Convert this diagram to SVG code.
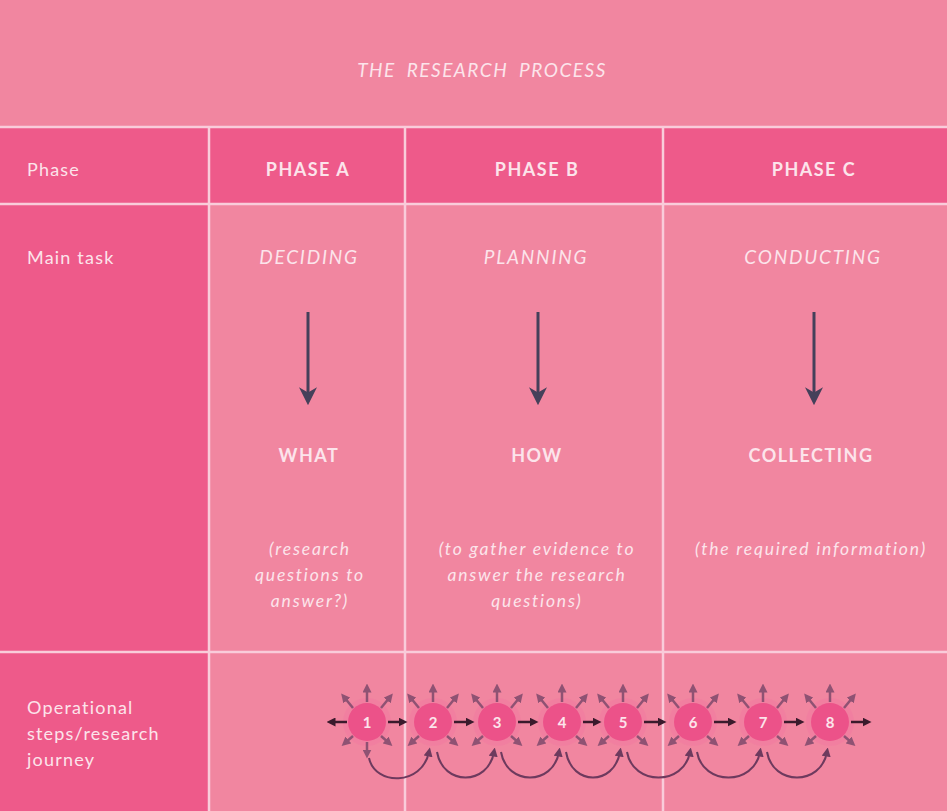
<svg xmlns="http://www.w3.org/2000/svg" width="947" height="811" viewBox="0 0 947 811">
<defs>
<style>
.t{font-family:Lato,"Open Sans","Liberation Sans",sans-serif;fill:#FCE4EB}
.hd{font-size:18px;font-weight:bold;text-anchor:middle;letter-spacing:1.5px}
.it{font-style:italic;text-anchor:middle}
.mt{font-size:19px;letter-spacing:1.8px}
.pr{font-size:17.5px;letter-spacing:1.8px}
.lb{font-size:18px;letter-spacing:1.2px}
.num{font-family:Lato,"Liberation Sans",sans-serif;font-size:15px;font-weight:bold;fill:#FCE4EB;text-anchor:middle}
.grid{stroke:#F9CCDA;stroke-width:2.5}
.rad{stroke:#7E4A6C;stroke-width:2.5;fill:none;opacity:0.85}
.nxt{stroke:#3A1A2C;stroke-width:2.5;fill:none}
.arc{stroke:#6E3A5E;stroke-width:2;fill:none}
</style>
<marker id="mh" viewBox="0 0 10 10" refX="5" refY="5" markerWidth="3.6" markerHeight="3.6" orient="auto">
<path d="M0,0 L10,5 L0,10 z" fill="#7E4A6C"/>
</marker>
<marker id="mk" viewBox="0 0 10 10" refX="5" refY="5" markerWidth="3.6" markerHeight="3.6" orient="auto">
<path d="M0,0 L10,5 L0,10 z" fill="#3A1A2C"/>
</marker>
<marker id="ma" viewBox="0 0 10 10" refX="5" refY="5" markerWidth="4.5" markerHeight="4.5" orient="auto">
<path d="M0,0 L10,5 L0,10 z" fill="#6E3A5E"/>
</marker>
<marker id="md" viewBox="0 0 10 10" refX="6" refY="5" markerWidth="6" markerHeight="6" orient="auto">
<path d="M0,0 L10,5 L0,10 L3,5 z" fill="#45405A"/>
</marker>
<g id="burst">
<circle r="24" fill="#F27CA0" opacity="0.6"/>
<circle r="19" fill="#EC5289"/>
<line class="rad" x1="0" y1="-20" x2="0" y2="-34" marker-end="url(#mh)"/>
<line class="rad" x1="-14" y1="-14" x2="-23" y2="-25" marker-end="url(#mh)"/>
<line class="rad" x1="14" y1="-14" x2="23" y2="-25" marker-end="url(#mh)"/>
<line class="rad" x1="-14" y1="14" x2="-22" y2="21" marker-end="url(#mh)"/>
<line class="rad" x1="14" y1="14" x2="22" y2="21" marker-end="url(#mh)"/>
</g>
</defs>

<g id="background">
<rect x="0" y="0" width="947" height="811" fill="#F186A0"/>
<rect x="0" y="127" width="947" height="77" fill="#EE5A8A"/>
<rect x="0" y="204" width="209" height="607" fill="#EE5A8A"/>
</g>

<g id="grid">
<line class="grid" x1="0" y1="127" x2="947" y2="127"/>
<line class="grid" x1="0" y1="204" x2="947" y2="204"/>
<line class="grid" x1="0" y1="652" x2="947" y2="652"/>
<line class="grid" x1="209" y1="127" x2="209" y2="811"/>
<line class="grid" x1="405" y1="127" x2="405" y2="811"/>
<line class="grid" x1="663" y1="127" x2="663" y2="811"/>
</g>

<g id="title">
<text class="t it" x="482" y="77" font-size="19" letter-spacing="1.5" word-spacing="5">THE RESEARCH PROCESS</text>
</g>

<g id="row-labels">
<text class="t lb" x="27" y="176">Phase</text>
<text class="t lb" x="27" y="264">Main task</text>
<text class="t lb" x="27" y="714">Operational</text>
<text class="t lb" x="27" y="740">steps/research</text>
<text class="t lb" x="27" y="766">journey</text>
</g>

<g id="phase-a">
<text class="t hd" x="308" y="176">PHASE A</text>
<text class="t it mt" x="309" y="264">DECIDING</text>
<text class="t hd" x="309" y="462">WHAT</text>
<text class="t it pr" x="310" y="555">(research</text>
<text class="t it pr" x="310" y="581">questions to</text>
<text class="t it pr" x="310" y="607">answer?)</text>
</g>

<g id="phase-b">
<text class="t hd" x="537" y="176">PHASE B</text>
<text class="t it mt" x="536" y="264">PLANNING</text>
<text class="t hd" x="537" y="462">HOW</text>
<text class="t it pr" x="537" y="555">(to gather evidence to</text>
<text class="t it pr" x="537" y="581">answer the research</text>
<text class="t it pr" x="537" y="607">questions)</text>
</g>

<g id="phase-c">
<text class="t hd" x="814" y="176">PHASE C</text>
<text class="t it mt" x="813" y="264">CONDUCTING</text>
<text class="t hd" x="811" y="462">COLLECTING</text>
<text class="t it pr" x="811" y="555">(the required information)</text>
</g>

<g id="steps">
<use href="#burst" x="367" y="722"/>
<use href="#burst" x="433" y="722"/>
<use href="#burst" x="497" y="722"/>
<use href="#burst" x="562" y="722"/>
<use href="#burst" x="623" y="722"/>
<use href="#burst" x="693" y="722"/>
<use href="#burst" x="763" y="722"/>
<use href="#burst" x="830" y="722"/>
<text class="num" x="367" y="728">1</text>
<text class="num" x="433" y="728">2</text>
<text class="num" x="497" y="728">3</text>
<text class="num" x="562" y="728">4</text>
<text class="num" x="623" y="728">5</text>
<text class="num" x="693" y="728">6</text>
<text class="num" x="763" y="728">7</text>
<text class="num" x="830" y="728">8</text>
</g>

<g id="connectors">
<line x1="308" y1="312" x2="308" y2="398" stroke="#45405A" stroke-width="3" marker-end="url(#md)"/>
<line x1="538" y1="312" x2="538" y2="398" stroke="#45405A" stroke-width="3" marker-end="url(#md)"/>
<line x1="814" y1="312" x2="814" y2="398" stroke="#45405A" stroke-width="3" marker-end="url(#md)"/>

<line class="nxt" x1="347" y1="722" x2="331" y2="722" marker-end="url(#mk)"/>
<line class="rad" x1="367" y1="742" x2="367" y2="754" marker-end="url(#mh)"/>
<line class="nxt" x1="388" y1="722" x2="403" y2="722" marker-end="url(#mk)"/>
<line class="nxt" x1="454" y1="722" x2="470" y2="722" marker-end="url(#mk)"/>
<line class="nxt" x1="518" y1="722" x2="534" y2="722" marker-end="url(#mk)"/>
<line class="nxt" x1="583" y1="722" x2="597" y2="722" marker-end="url(#mk)"/>
<line class="nxt" x1="644" y1="722" x2="662" y2="722" marker-end="url(#mk)"/>
<line class="nxt" x1="714" y1="722" x2="732" y2="722" marker-end="url(#mk)"/>
<line class="nxt" x1="784" y1="722" x2="800" y2="722" marker-end="url(#mk)"/>
<line class="nxt" x1="851" y1="722" x2="867" y2="722" marker-end="url(#mk)"/>

<path class="arc" d="M369,758 C375,786 422,786 429,752" marker-end="url(#ma)"/>
<path class="arc" d="M437,752 C443,786 488,786 494,752" marker-end="url(#ma)"/>
<path class="arc" d="M501,752 C507,786 553,786 559,752" marker-end="url(#ma)"/>
<path class="arc" d="M566,752 C572,786 614,786 620,752" marker-end="url(#ma)"/>
<path class="arc" d="M627,752 C633,786 684,786 690,752" marker-end="url(#ma)"/>
<path class="arc" d="M697,752 C703,786 754,786 760,752" marker-end="url(#ma)"/>
<path class="arc" d="M767,752 C773,786 821,786 827,752" marker-end="url(#ma)"/>
</g>
</svg>
